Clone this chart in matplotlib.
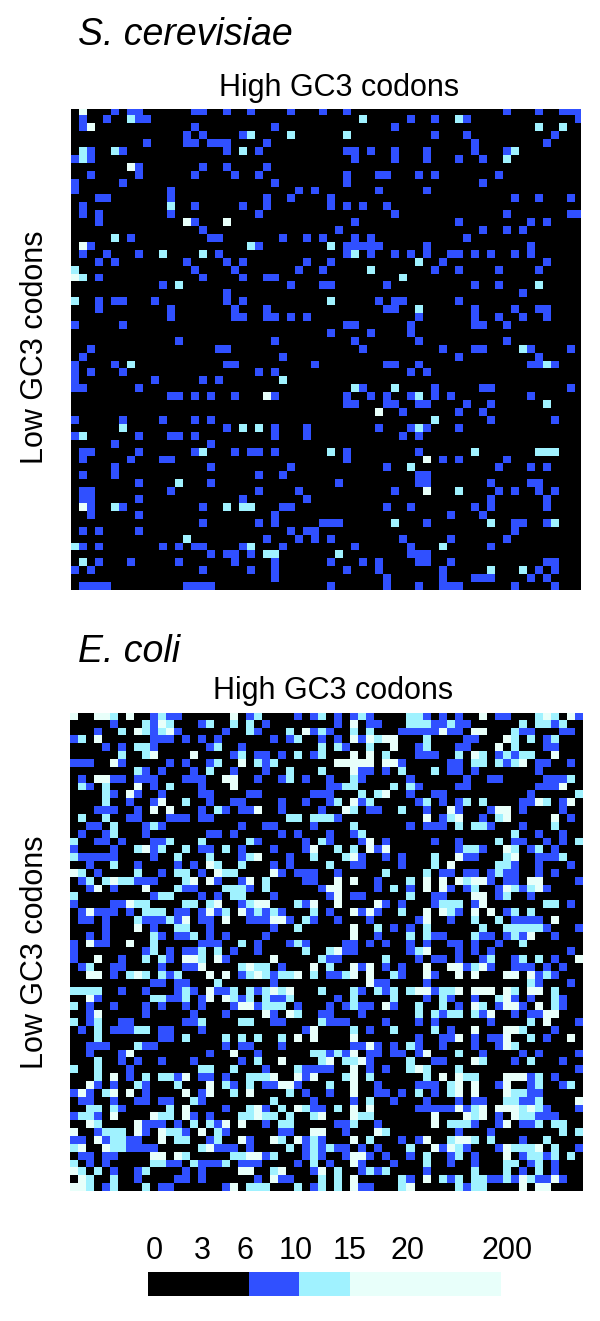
import numpy as np
import matplotlib
matplotlib.use("Agg")
import matplotlib.pyplot as plt
from matplotlib.colors import ListedColormap, BoundaryNorm

plt.rcParams['font.family'] = ['Liberation Sans', 'DejaVu Sans']

W, H = 600, 1321
N_ROWS, N_COLS = 61, 64
COLORS = ['#000000', '#3050FF', '#A0F2FF', '#E8FFFA']

# Each row lists its non-black cells: column, then C (10-15) or W (>15); no letter means blue (6-10).
YEAST = [
"1W 5 7 8 15 16 19 22 27 31 34 54 58 61 62 63",
"1 4 7C 8 9 36C 42 45 48C 49 63",
"1 2W 15 25 40 58C 61C",
"14 16 21 22C 27C 34C 45 49 60",
"9 14 15 17 18 19 24 50 59",
"1C 2 5C 6 19 21C 23 34 35 37 40 44 50 54 55C",
"0 1C 2 35 40 44 48 51 54C",
"7W 8 16 19 24",
"2 8 15 20 23 34 38 39 43 45 53",
"0 6 25 34 51",
"0 12 28 30 38 44",
"3 4 12 24 27 32 55 58 62",
"1 12C 15 21 24 32 34 36 39",
"1 3 12 23 40 54 62 63",
"3 14W 15 19W 35 48 57 59",
"16 33 51 54 56",
"5C 7 17 18 26 29 31 35 37 49",
"1W 2 22C 23 32C 34 35 36 37 38 44 57",
"1 4 8 11C 16C 18 34 35C 37 40 42 44 47 48 50 52 55 57",
"3 5 14 19 21 29 32 43C 46 59",
"0C 15 20 28 31 37C 45 48 53 58",
"0W 1C 3 16 21 24 25 41C",
"11 13C 27 31 32 39 50 53 58C",
"19 56",
"0C 3 5 6 10 19 21 32C 38 40 41 48",
"3 12 20 24 39 40 43C 50 55 58 59",
"12 20 21 24 25 27 29 43 50 53 56 59",
"0 6 34 35 42 50 51 54",
"32 37 42",
"13 25 35 43 54",
"2 18 19 36 46 50 51 56C 57 62",
"1 26 48 58",
"0 5 7C 19 20 30 39 40 43 57 58 59C 60",
"0 2 6 23 25 42 44",
"0 10 16 18 26C",
"0 1 8 35C 36 40C 45 51 52 62",
"12 13 15 17 20 24W 25 34 37 39 42 43C 45 47 57",
"34 35 39 40 43 44 49 52 59C",
"38W 41 48 51",
"0 6 11 15 17 45C 52 60",
"6C 19 21C 23C 25 29 38 42 43C 44 48",
"0 1C 8 12 13 15 25 29 41 43",
"5 17",
"1 2 8 15 16C 20 22 23 25 32C 34 43 50C 58C 59C 60C",
"1 7 11 12 34 44W 46 48 54",
"5 17 27 39 42C 53 57 59",
"1 5 23 26 43 44",
"8 13C 17 33 43 44 52 57 58",
"1 2 12 23 28 40 44W 48C 53 55 58 60",
"1 2 8 21 29 52 59",
"1W 2 5C 6 16 19C 21C 22C 26 27 39 42 50 52 59",
"2 8 25 47 51",
"16 23 25 31 32 33 40C 44 52C 55 56 59 60C",
"1 3 8 27 29 30 55",
"14C 24 28 30 32 41 47 54",
"0C 1 3 11 13 15 16 21 22C 26 35 42 46C 52",
"17 19 20 22 24C 25C 33C 42 43 44",
"1C 3 7 13 20 25 32 36 38 43 44 47 59 60",
"0 2 16 22 25 34 38 46 52C 56C 58 60",
"25 39 46 50 51 52 57 59",
"1 2 3 4 14 15 16 17 32 39 43 46 47 48 55 60",
]

# Columns 0-31
ECOLI_LEFT = [
"0W 3W 4W 5C 7W 10 11C 12 13 20W 22 23C 28 30 31C",
"5 9C 10 11W 12C 16 17C 20C 22C 24",
"3 6C 8W 9C 10 11C 12W 13 19 22C 23 27C 29W 30 31C",
"0 1C 3W 10 11 12 14 16 18 25 27 28C",
"4 6 8C 9C 10 17 18C 21 31C",
"6C 9C 10W 15W 20 21C 23 24 26 28C 30 31C",
"0 1 2 5W 6 12 14 17 18C 21W 23C 24 25C",
"8C 9 11 15 17C 20 24 27C 31C",
"1 3W 4W 5 6 8 9 10 14 15 16 19W 20W 23 26 27C 29",
"1C 2 4C 8W 10 12C 16 20W",
"4C 5 7W 8 11 16 17 22 23 30 31",
"4C 7 10 11W 14C 17 20 21 26 29",
"3 4 5 8 10W 12W 16 18C 19 21 22 23W 26 31",
"1C 4C 7 8 12 13 14 16 17 27C 28C 30C 31C",
"2 3 5C 9 10C 11 21 24 25 30",
"1 4 5C 9 17 18 20 26 28",
"0C 3 4 6 10 11 12C 16C 22C 23 29 31C",
"0 5 8C 9W 10 11C 14C 16 17 19C 21 25 29 30W",
"0C 1 2 3 4 5 10 13C 17C 21 22C 23W 27 30C",
"2 5C 8 13 15 17W 18C 21C 25 27",
"0W 1C 3 8C 11 13C 14C 16 18W 19C 20C 25W 26 28 29 30",
"1 2C 4C 5W 6C 7C 8 9 10 14C 15W 17W 18 21 22W 24C 29 30",
"2 3W 5 9W 13C 14 15 19C 20C 21C 22 24C 31",
"0C 10 11C 12C 16 18 20C 21C 25",
"0 5 6 7W 8C 9C 14C 15C 17C 18W 21 22C 23W 24W 28C 29 30W",
"1 2W 3 4 5 7 9C 10C 11C 13 14 16 17W 18 19C 21W 22 23C 24 25C 26 30C",
"1 2 4 8C 9 10 11 12C 13 14W 16 17 19W 22 23 24 25W 26W 27 29C 30",
"4 8W 10 13C 14C 17 25 28C",
"2 4 10C 11 13 14 15C 17 19 24",
"0 2W 3 4 7W 10C 16 17 18 21C 23 27 28C 29",
"0 9 10C 12 14 15 16C 18C 20 23 29C",
"0 3W 6 9C 11C 12 14W 15W 16C 18W 19 25W 31C",
"1 2C 5 6 11 14 15 16W 21C 22W 23C 24C 26 30W",
"2W 3W 5 7C 8W 9C 11C 12 13C 17W 19W 21 22C 23W 24C 25 26C 27C 28W 30C",
"10 11 13 14 18C 25",
"0C 1C 2C 3C 6 9 13 14C 15 17W 18 19 20C 22C 23 24C 25W 26C 27W 31C",
"2W 3 10C 11C 12 13 14C 16 17W 19W 20C 21 22C 24C 25 26 27C",
"0C 2 5 9 11 14 16 20 21W 22W 23 24C 25C 26C 28",
"2 3W 9 15 19 24W 25 27W 28C 31",
"0C 2 3C 6 7 14 15 16C 21C 22C 25 26 31C",
"1 3C 5 6 7 8C 9C 11 12 16 29 30W",
"3C 11 12 14C 19C 21C 23C 26C 28W 30W",
"2 3 4 8C 9 10 19 21 22 26",
"2 6 7W 17 20W 23 30C 31C",
"3C 6 8 11 15 21 23C 26W 31C",
"0C 3C 7 16C 17C 20C 24 28C 29 30 31",
"3C 5W 7 9C 11C 12C 13 14W 16 17 19 22C 23C 24C 25W 28W 29 30W",
"2W 3 5 8C 9 13C 17W 19C 20 22C 24 25 26W 27W 28",
"0 1W 2 4C 5W 7W 9 14W 16 17W 20C 22W 27C 29",
"1 2 5 8 9 11 12 15C 16 25C 30",
"2C 3C 5C 6 12C 14W 19 22C 23W 24 26C 28W 29C 30 31",
"0 1C 2C 3 5W 10W 11C 12C 14W 15 17 21C 22C 23W 24C 25C 27C 30C",
"2W 3C 8W 9 10 11 13 15C 17C 18 19W 21W 24 26C 27C",
"0W 3 4C 5C 6C 8W 9 11W 12C 13C 14 16W 18C 19 26 27 30W 31W",
"0 1 3W 4 5C 6C 7 8 11W 13C 14C 17 18C 21W 22 25W 26C 28W 29 30C 31",
"0C 1W 4W 5C 6C 7 8 9 10 16C 17W 18 19 20 22 27C 29 30C 31",
"1 2 4 5 10W 11W 13W 14C 20C 21C 22W 23W 24 25C 29 30C 31",
"0C 2 4 10C 11C 12 13 15C 16 17 18 19C 21 22 23 28 30C",
"0W 1C 3C 5 8 9C 14 16 21W 22W 25C 26W 30",
"1W 2C 5C 8 13 14 16 23 25W 26 27 31C",
"0W 1W 2C 4 5C 9C 11 12 19 20W 22C 23C 24C 28C 30 31C",
]

# Columns 31-63, numbered here from 0
ECOLI_RIGHT = [
"0C 2 4 5C 6 11C 12C 13 15 17 20W 22 23 27C 28W 29C 31W 32",
"2 4W 6 7 11C 12C 13C 14 15 16C 17 18 25C 27C 28C 29 30C",
"1 4C 6C 10 11 12 13 14 15W 16 17 19W 20W 24C 25 26 30 31",
"0 2 4W 5 6W 7C 8W 9W 13C 18 19 23W 24C 26C 28 29C",
"0C 2C 3 6C 9W 12 13C 17 18 22W 24C 28 29",
"0C 4W 6W 8C 12 13 14 17C 19W 20C 22 23C 24 25C 26C 29W",
"2W 3W 4W 5W 6W 8W 9W 10 16 17 19C 20C 22C 23 24C 25W 27 28 31",
"0C 4W 5 6 8 10C 14C 16 17 19 27",
"1 4C 5 11 18 21 22 28 29 30 31C",
"1 2 3C 4C 9C 11C 12 17 18 27 28 29 30W",
"0 1 5C 7C 8W 11 14 15 26 32C",
"1 2C 4W 5 6C 12 13C 15 17 18C 20C 25 26 27W 28C 30 31W",
"0 3W 4C 6 7 10C 13 16W 17 21 22W 23W 25 30",
"0C 1C 2 13W 15 16C 17W 20 22C 23W 29W 31",
"4C 11 13 14 15 17C 19C 20C 21 25 29C",
"1 4 5C 24C 27 30",
"0C 1 5 6W 8 14 17 22C 24 25 28 30 32C",
"2C 4C 6W 7 8W 17 18C 19C 20 23W 24C 26 27C 29",
"3C 4W 5 8 10 14C 17W 18 19 23C 24W 27 28 29 30C",
"1C 4 5 10 14C 16W 22C 23C 24 27 31",
"2 8C 13C 15 16 18 19 21 22C 23 24 27 29",
"2W 4W 7 11C 13W 15W 17W 18C 19W 20W 21 23 24 26W 27W 32",
"0 1W 2W 7 9C 11 13W 15W 16 18 19C 22 23W 24C 25 26C 27W 28",
"1 2W 4 5 11C 14 15 19W 20W 22 23C 26",
"2W 7W 8 10 14 15C 16C 17C 19 20W 28C 29C 31",
"1 4W 5 6W 7 10C 13W 15W 16C 17 19W 21W 23 24C 26C",
"2 6 12 13W 16 19C 22C 24 25 26 27 29W",
"4W 7C 9 11 13C 20C 23C 24C 25C 26C 27C 28 32",
"4W 7 11C 13C 14 15 19C 20 21 23 24C 25 26W 29",
"3 4 6 8 11 13 16 17 19 22 25C",
"1C 2W 3 4 11 12C 13W 17 19 21 31",
"0C 1 2 8C 12 14 15 17 20 21C 24 25C 27C 29 32W",
"1C 4W 5 6W 8 10 13W 16W 17W 18 19C 20W 21 24 25 26 28 30",
"1 2 3C 4W 6W 9C 10 13W 14 17W 19W 23W 24W 26W 27 28C 29",
"6W 7 8 13 26C 27 31",
"0C 4C 5 7C 8 9C 11C 12W 13W 14 15C 16C 17W 19W 20W 21W 23W 24C 26W 27W 29C",
"2 4C 9C 13 15C 16 19 22C 23W 24 26 29C 30",
"1 3 4C 5 6 8W 9 12C 15C 17 19W 20C 22 23W 24W 25 27W 29C 30",
"0 1 5 12C 14C 15 16C 17C 19C 20 21W 24 26 27 28W 29W",
"0C 1 2 3 8 12 14 21 26C 28W 32",
"4C 6 9C 14C 16 19W 23W 24W 25C 29",
"4W 12 15 16 17W 19 21 22 23W 26C 28 31W",
"4 5 6W 7 9 11C 12 15 19 22 23W 24C",
"0C 1 2C 3 4W 6 7 9 10 12 13W 17C 20 25 27 32",
"0C 1W 3C 4C 5W 6 11C 14 15 19W 20C 24 26C 30",
"0 1 4W 6 8 11C 12W 13C 17C 32",
"3C 4W 6C 13C 15W 17W 18C 19C 23W 24W 25W 26 27C 29",
"1C 4W 7 12 13 14 16C 17W 19W 22 23W 26 27C 30 31C",
"1 4W 7 8 10 12C 14 16C 17W 19W 23W 24C 25C 26 27",
"4 6C 9 13 17 19 20 23C 24C 25 26 27C 32W",
"0 2C 4W 6W 12 13 14 15 16 17W 18 19C 20W 22W 23W 24W 25C 26W 27C 28 32",
"0W 4W 5C 6C 14W 18W 19C 20W 22 24W 25C 26C 27 28 29",
"2 3 4C 7 14W 16C 17C 18C 19 22 23W 25 26 27C 29C 30C",
"0W 3 7W 8C 17 21 30C 32C",
"0 4W 6C 10 12 13W 16C 17W 18W 19C 21C 25 28C",
"0 1C 2 3 5 7 11C 14W 15 16W 17C 18 22 23W 24C 25C 26C 27W 29C 32",
"3 4W 5W 6 8 11 13C 16 17C 19 23W 25 26C 27C 28 29C 31C",
"1 4W 5 9 13C 16 19 23C 24C 26 27C 29",
"0W 2C 5 6C 7 8C 13 19C 23C 25 27C 29",
"0C 2C 4W 10C 11 13W 15C 16 17C 19C 20C 21 22 23C 24 25W 26C 27 28 29W 30",
"0C 2C 4W 5 6 10C 11W 17C 18 19C 20C 25W 27W 28W",
]

LEGEND_EDGES = [0, 1, 2, 3, 4, 5, 7]
LEGEND_BINS = [0, 0, 1, 2, 3, 3]
LEGEND_LABELS = ['0', '3', '6', '10', '15', '20', '200']
LEVEL = {'': 1, 'C': 2, 'W': 3}


def fill(grid, rows, offset=0):
    for r, row in enumerate(rows):
        for tok in row.split():
            letter = tok[-1] if tok[-1].isalpha() else ''
            col = int(tok[:-1] if letter else tok) + offset
            if 0 <= col < N_COLS:
                grid[r, col] = LEVEL[letter]


yeast = np.zeros((N_ROWS, N_COLS), int)
fill(yeast, YEAST)
ecoli = np.zeros((N_ROWS, N_COLS), int)
fill(ecoli, ECOLI_LEFT)
fill(ecoli, ECOLI_RIGHT, 31)

cmap = ListedColormap(COLORS)
norm = BoundaryNorm([-0.5, 0.5, 1.5, 2.5, 3.5], 4)

fig = plt.figure(figsize=(W / 100, H / 100), dpi=100)


def px_axes(x0, y0, x1, y1):
    return fig.add_axes([x0 / W, 1 - y1 / H, (x1 - x0) / W, (y1 - y0) / H])


def panel(grid, box, view, title, tx, ty, hx, hy, ly):
    ax = px_axes(*box)
    ax.pcolormesh(grid, cmap=cmap, norm=norm, rasterized=True)
    ax.set_xlim(0, view[0])
    ax.set_ylim(N_ROWS, view[1])
    ax.axis('off')
    fig.text(tx / W, 1 - ty / H, title, style='italic', fontsize=27, ha='left', va='center')
    fig.text(hx / W, 1 - hy / H, 'High GC3 codons', fontsize=22, ha='center', va='center')
    fig.text(35 / W, 1 - ly / H, 'Low GC3 codons', fontsize=22, rotation=90, ha='center', va='center')


panel(yeast, (71.3, 109, 581, 590), (63.7, 0.2), 'S. cerevisiae', 78, 35, 339, 88, 347)
panel(ecoli, (69.5, 713, 583, 1191), (64, 0.15), 'E. coli', 78, 652, 333, 691, 952)

lax = px_axes(148, 1272, 501, 1296)
lax.pcolormesh(LEGEND_EDGES, [0, 1], np.array([LEGEND_BINS]), cmap=cmap, norm=norm)
lax.axis('off')
for lab, px in zip(LEGEND_LABELS, [154, 202, 245.5, 296, 350, 407, 507]):
    fig.text(px / W, 1 - 1251 / H, lab, fontsize=22, ha='center', va='center')

fig.savefig('out.png', dpi=100)
